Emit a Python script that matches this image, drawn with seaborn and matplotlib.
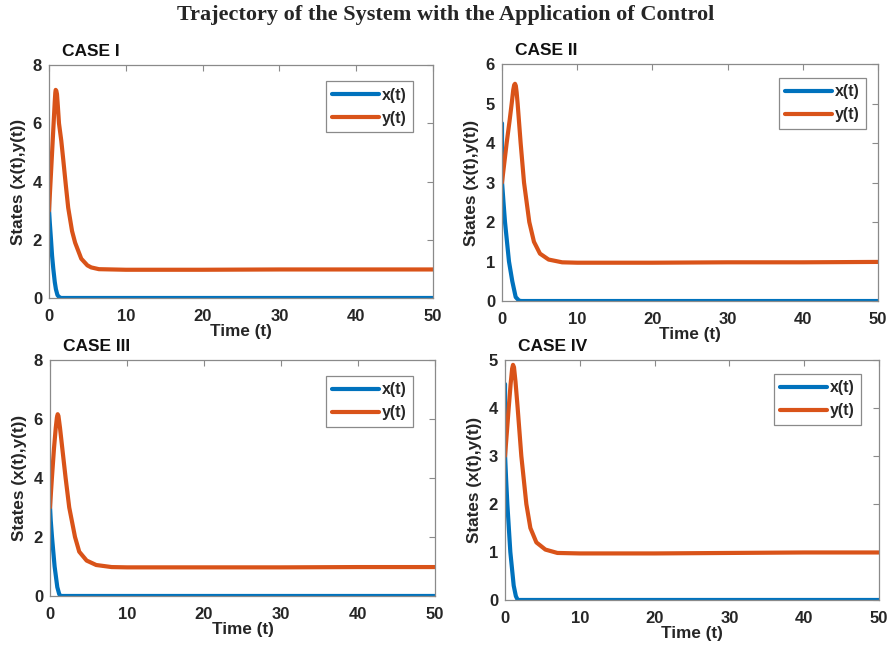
import matplotlib
matplotlib.use("Agg")
import matplotlib.pyplot as plt
import pandas as pd
import seaborn as sns

# values, one (time, value) pair list per series

# CASE I
t_x1 = [0, 0.01, 0.1, 0.26, 0.4, 0.56, 0.75, 0.9, 1.1, 1.35, 1.6, 50]
x1 = [4.5, 3.0, 2.6, 2.0, 1.45, 1.0, 0.55, 0.3, 0.1, 0.02, 0.0, 0.0]
t_y1 = [0, 0.2, 0.4, 0.6, 0.75, 0.82, 0.87, 0.95, 1.04, 1.15, 1.3, 1.6, 1.86, 2.2,
        2.5, 3.0, 3.4, 4.2, 5.0, 5.5, 6.5, 10, 20, 30, 40, 50]
y1 = [3.0, 4.0, 5.0, 6.0, 6.75, 7.05, 7.15, 7.12, 7.0, 6.6, 6.0, 5.4, 4.74, 3.85,
      3.1, 2.3, 1.9, 1.35, 1.12, 1.05, 0.99, 0.97, 0.97, 0.98, 0.98, 0.98]

# CASE II
t_x2 = [0, 0.01, 0.2, 0.4, 0.93, 1.37, 1.82, 2.26, 2.6, 50]
x2 = [4.5, 3.0, 2.5, 2.0, 1.0, 0.5, 0.1, 0.01, 0.0, 0.0]
t_y2 = [0, 0.31, 0.62, 1.0, 1.29, 1.5, 1.62, 1.73, 1.84, 1.95, 2.08, 2.48, 2.93,
        3.63, 4.25, 5.05, 6.2, 8, 10, 20, 30, 40, 50]
y2 = [3.0, 3.5, 4.0, 4.55, 5.0, 5.35, 5.47, 5.5, 5.45, 5.28, 5.0, 4.0, 3.0,
      2.0, 1.5, 1.2, 1.05, 0.98, 0.97, 0.97, 0.98, 0.98, 0.99]

# CASE III
t_x3 = [0, 0.01, 0.1, 0.26, 0.6, 0.95, 1.2, 1.4, 50]
x3 = [4.5, 3.0, 2.55, 2.0, 1.0, 0.3, 0.06, 0.0, 0.0]
t_y3 = [0, 0.25, 0.52, 0.75, 0.9, 1.0, 1.1, 1.3, 1.6, 2.03, 2.5, 3.25, 3.8,
        4.76, 6.0, 8, 10, 20, 30, 40, 50]
y3 = [3.0, 4.0, 5.0, 5.7, 6.05, 6.16, 6.1, 5.7, 5.0, 4.0, 3.0, 2.0, 1.5,
      1.2, 1.05, 0.98, 0.97, 0.97, 0.97, 0.98, 0.98]

# CASE IV
t_x4 = [0, 0.01, 0.15, 0.31, 0.71, 1.16, 1.45, 1.7, 50]
x4 = [4.5, 3.0, 2.5, 2.0, 1.0, 0.3, 0.08, 0.0, 0.0]
t_y4 = [0, 0.25, 0.49, 0.75, 0.95, 1.07, 1.2, 1.4, 1.69, 2.18, 2.85, 3.39, 4.19,
        5.4, 7, 10, 20, 30, 40, 50]
y4 = [3.0, 3.5, 4.0, 4.5, 4.82, 4.9, 4.85, 4.55, 4.0, 3.0, 2.0, 1.5, 1.2,
      1.05, 0.98, 0.97, 0.97, 0.98, 0.99, 0.99]

case_titles = ["CASE I", "CASE II", "CASE III", "CASE IV"]
case_series = [(t_x1, x1, t_y1, y1), (t_x2, x2, t_y2, y2),
               (t_x3, x3, t_y3, y3), (t_x4, x4, t_y4, y4)]
case_ylim = [8, 6, 8, 5]
case_ystep = [2, 1, 2, 1]

# axes rectangles in figure fractions and legend anchors (axes coords)
positions = [
    [0.055, 0.538, 0.431, 0.361],
    [0.5634, 0.5333, 0.422, 0.3674],
    [0.0561, 0.076, 0.432, 0.366],
    [0.5668, 0.0698, 0.4198, 0.372],
]
legend_anchor = [(0.948, 0.931), (0.968, 0.941), (0.943, 0.932), (0.952, 0.942)]

palette = {"x(t)": "#0072BD", "y(t)": "#D95319"}
spine_grey = "#8a8a8a"

sns.set_style("white")
plt.rcParams["font.family"] = ["Liberation Sans", "DejaVu Sans"]
plt.rcParams["font.weight"] = "bold"

fig = plt.figure(figsize=(8.91, 6.45), dpi=100)
fig.text(0.5, 0.976, "Trajectory of the System with the Application of Control",
         ha="center", va="center", fontsize=16, fontweight="bold",
         family=["Liberation Serif", "DejaVu Serif"])

for i in range(4):
    ax = fig.add_axes(positions[i])
    tx, xv, ty, yv = case_series[i]
    df = pd.DataFrame({"t": tx + ty,
                       "value": xv + yv,
                       "state": ["x(t)"] * len(tx) + ["y(t)"] * len(ty)})
    sns.lineplot(data=df, x="t", y="value", hue="state", palette=palette,
                 linewidth=3.0, ax=ax, legend=True)

    ax.set_xlim(0, 50)
    ax.set_ylim(0, case_ylim[i])
    ax.set_xticks(range(0, 51, 10))
    ax.set_yticks(range(0, case_ylim[i] + 1, case_ystep[i]))
    ax.tick_params(direction="in", top=True, right=True, length=4,
                   color=spine_grey, labelsize=12, labelcolor="#262626")
    ax.tick_params(axis="x", pad=8)
    ax.tick_params(axis="y", pad=5)
    for lab in ax.get_xticklabels() + ax.get_yticklabels():
        lab.set_fontweight("bold")
    for sp in ax.spines.values():
        sp.set_color(spine_grey)
        sp.set_linewidth(0.9)

    ax.set_xlabel("Time (t)", fontsize=12.3, fontweight="bold", color="#262626", labelpad=0)
    ax.set_ylabel("States (x(t),y(t))", fontsize=12.3, fontweight="bold", color="#262626",
                  labelpad=5)
    ax.text(0.035, 1.025, case_titles[i], transform=ax.transAxes, ha="left",
            va="bottom", fontsize=12.5, fontweight="bold", color="#111111")

    handles, labels = ax.get_legend_handles_labels()
    leg = ax.legend(handles, labels, loc="upper right", bbox_to_anchor=legend_anchor[i],
                    borderaxespad=0, fancybox=False, framealpha=1,
                    edgecolor=spine_grey, handlelength=2.9, handletextpad=0.2,
                    borderpad=0.4, prop={"size": 11.5, "weight": "bold"})
    leg.get_frame().set_linewidth(0.9)

fig.savefig("out.png", dpi=100)
